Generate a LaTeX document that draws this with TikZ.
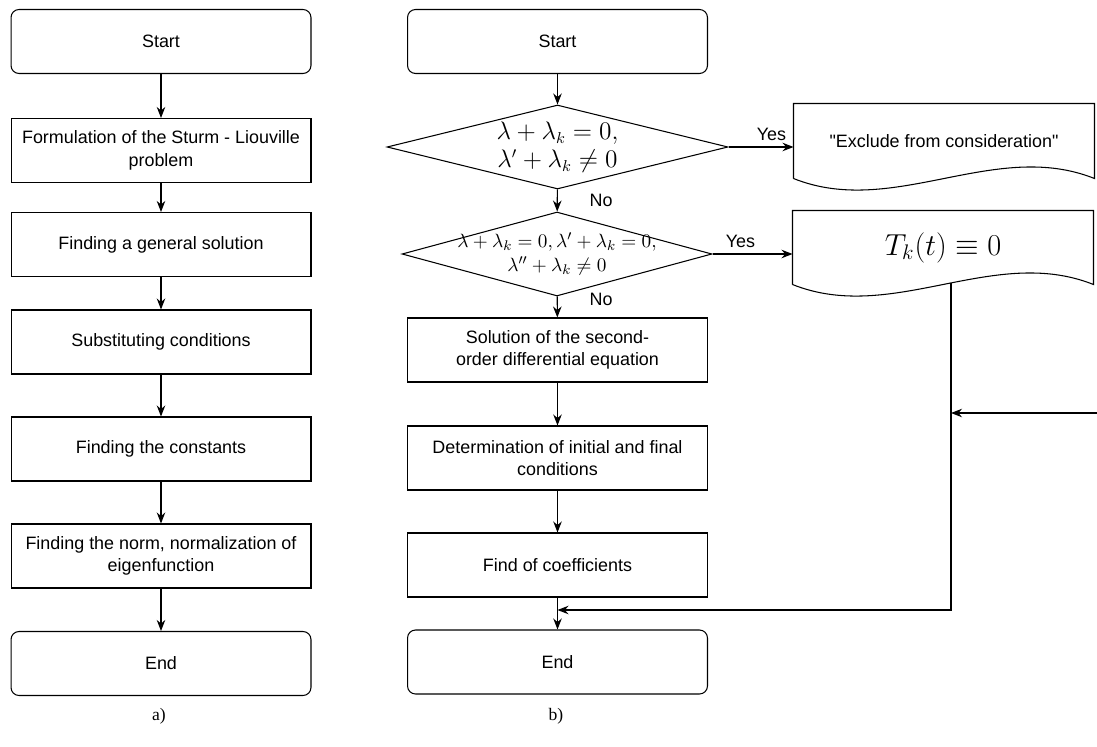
\documentclass[tikz,border=0pt]{standalone}
\usepackage{fontspec}
\setmainfont{Liberation Serif}
\setsansfont{Liberation Sans}
\usetikzlibrary{shapes.geometric,arrows.meta}

\tikzset{
  txt/.style={font=\sffamily\fontsize{10.2}{12.9}\selectfont},
  block/.style={txt, draw, rectangle, minimum width=6cm, minimum height=1.28cm, align=center},
  term/.style={block, rounded corners=0.16cm},
  decision/.style={draw, diamond, inner sep=0pt, align=center},
  docbox/.style={txt, rectangle, minimum width=6cm, align=center},
  flow/.style={-{Stealth[length=2.2mm,width=1.7mm]}},
}

\begin{document}
\begin{tikzpicture}[x=0.02cm, y=-0.02cm, line width=0.6pt]
  \useasboundingbox (0,0) rectangle (1097,746);
  % a) eigenfunction chart
  \node[term]  (ls)     at (161,41.5) {Start};
  \node[block] (lform)  at (161,150.5) {Formulation of the Sturm - Liouville\\problem};
  \node[block] (lgen)   at (161,244.5) {Finding a general solution};
  \node[block] (lsub)   at (161,342) {Substituting conditions};
  \node[block] (lconst) at (161,449) {Finding the constants};
  \node[block] (lnorm)  at (161,556) {Finding the norm, normalization of\\eigenfunction};
  \node[term]  (le)     at (161,663.5) {End};
  \begin{scope}[flow]
    \draw (ls) to (lform);
    \draw (lform) to (lgen);
    \draw (lgen) to (lsub);
    \draw (lsub) to (lconst);
    \draw (lconst) to (lnorm);
    \draw (lnorm) to (le);
  \end{scope}
  % b) time function chart
  \node[term] (rs) at (557.5,41.5) {Start};
  \node[decision, shape aspect=4.06, inner xsep=-10pt, minimum width=6.82cm, minimum height=1.68cm,
    font=\fontsize{13.4}{16}\selectfont] (c1) at (557.5,147)
    {$\lambda+\lambda_k=0,$\\$\lambda'+\lambda_k\neq0$};
  \node[decision, shape aspect=3.69, inner xsep=-30pt, minimum width=6.2cm, minimum height=1.68cm,
    font=\fontsize{11.3}{14}\selectfont] (c2) at (557,254)
    {$\lambda+\lambda_k=0, \lambda'+\lambda_k=0,$\\$\lambda''+\lambda_k\neq0$};
  \node[block] (rsol)  at (557.5,350) {Solution of the second-\\order differential equation};
  \node[block] (rdet)  at (557.5,458) {Determination of initial and final\\conditions};
  \node[block] (rfind) at (557.5,565) {Find of coefficients};
  \node[term]  (re)    at (557.5,662) {End};
  \node[docbox, minimum height=1.48cm] (excl) at (944,141)
    {\textquotedbl Exclude from consideration\textquotedbl};
  \node[docbox, minimum height=1.46cm, font=\fontsize{17.5}{20}\selectfont] (tk) at (943,247.5) {$T_k(t)\equiv0$};
  \draw (excl.south west) -- (excl.north west) -- (excl.north east) -- (excl.south east)
    .. controls +(-100,-40) and +(100,40) .. (excl.south west);
  \draw (tk.south west) -- (tk.north west) -- (tk.north east) -- (tk.south east)
    .. controls +(-100,-40) and +(100,40) .. (tk.south west);
  \coordinate (tkfoot) at (951,283);
  \coordinate (tkturn) at (951,610);
  \coordinate (join) at (557.5,610);
  \coordinate (rin) at (1097,413);
  \coordinate (rhit) at (951,413);
  \begin{scope}[flow]
    \draw (rs) to (c1);
    \draw (c1) to node[txt, right, xshift=0.52cm]{No} (c2);
    \draw (c2.east) to node[txt, above, pos=0.35]{Yes} (c2.east -| tk.west);
    \draw (c1.east) to node[txt, above, pos=0.66]{Yes} (c1.east -| excl.west);
    \draw (c2) to node[txt, right, xshift=0.52cm, pos=0.15]{No} (rsol);
    \draw (rsol) to (rdet);
    \draw (rdet) to (rfind);
    \draw (rfind) to (re);
    \draw (tkfoot) -- (tkturn) -- (join);
    \draw (rin) -- (rhit);
  \end{scope}
  \node[font=\fontsize{10}{12}\selectfont] (capa) at (159,716) {a)};
  \node[font=\fontsize{10}{12}\selectfont] (capb) at (556,716) {b)};
\end{tikzpicture}
\end{document}
